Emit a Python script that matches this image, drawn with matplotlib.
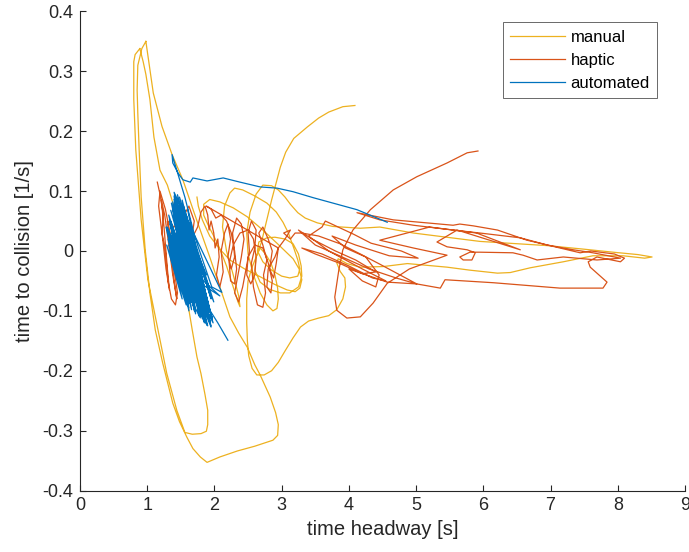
import matplotlib
matplotlib.use("Agg")
import matplotlib.pyplot as plt
import numpy as np

plt.rcParams['font.family'] = ['Liberation Sans', 'DejaVu Sans']
plt.rcParams['axes.unicode_minus'] = False

nan = np.nan

# Trajectories in the (time headway [s], time to collision [1/s]) plane.
# NaN entries separate individual runs of the same condition.
manual_thw = [
    # run 1
    0.89, 0.82, 0.80, 0.80, 0.83, 0.91, 1.01, 1.16, 1.29, 1.44, 1.56, 1.67, 1.80, 1.88, 1.90, 1.90, 1.86, 1.80,
    1.74, 1.67, 1.60, 1.55, 1.47, 1.41, 1.30, 1.19, 1.10, 1.04, 0.98, 0.94, 0.89, nan,
    # run 2
    0.98, 1.09, 1.22, 1.37, 1.53, 1.71, 1.93, 2.11, 2.23, 2.36, 2.49, 2.60, 2.68, 2.83, 2.91, 2.95, 2.94, 2.87,
    2.60, 2.34, 2.08, 1.89, 1.79, 1.68, 1.59, 1.48, 1.38, 1.23, 1.12, 1.04, 0.97, 0.91, 0.88, 0.86, 0.85, 0.86,
    0.92, 0.98, nan,
    # run 3
    1.74, 1.76, 1.82, 1.93, 2.08, 2.23, 2.45, 2.68, 2.90, 3.08, 3.20, 3.27, 3.30, 3.26, 3.17, 3.05, 2.93, 2.72,
    2.49, 2.28, 2.08, 1.93, 1.84, 1.84, 1.92, 2.05, 2.18, 2.28, 2.35, 2.38, 2.36, 2.28, 2.18, 2.12, 2.15, 2.23,
    2.30, 2.42, 2.60, 2.78, 2.92, 3.02, 3.10, 3.18, 3.24, 3.27, 3.24, 3.12, 3.00, 2.85, 2.72, 2.64, 2.66, 2.78,
    2.90, 3.05, 3.17, 3.25, 3.29, 3.30, 3.25, 3.12, 2.98, 2.82, 2.68, 2.60, 2.62, 2.68, 2.76, 2.84, 2.90, 2.94,
    2.95, 2.93, 2.87, 2.78, 2.68, 2.58, 2.50, 2.48, 2.53, 2.62, 2.72, 2.85, 2.95, 3.05, 3.13, 3.24, 3.35, 3.53,
    3.76, 4.17, 4.46, 4.96, 5.95, 6.95, 7.50, 7.93, 8.30, 8.51, 8.40, 8.08, 7.63, 7.19, 6.70, 6.40, 6.21, 5.80,
    5.46, 4.87, 4.51, 4.17, 3.97, 3.84, 3.82, 3.87, 3.94, 3.95, 3.91, 3.82, 3.70, 3.55, 3.40, 3.28, 3.17, 3.05,
    2.95, 2.85, 2.74, 2.63, 2.56, 2.51, 2.49, 2.48, 2.48, 2.50, 2.55, 2.62, 2.70, 2.78, 2.85, 2.92, 2.98, 3.06,
    3.18, 3.38, 3.55, 3.70, 3.91, 4.09,
]
manual_ttc = [
    # run 1
    0.338, 0.328, 0.316, 0.253, 0.169, 0.052, -0.048, -0.132, -0.204, -0.266, -0.303, -0.306, -0.305, -0.301,
    -0.290, -0.266, -0.240, -0.205, -0.177, -0.132, -0.085, -0.040, 0.015, 0.070, 0.110, 0.135, 0.190, 0.253,
    0.295, 0.316, 0.338, nan,
    # run 2
    0.350, 0.264, 0.208, 0.161, 0.119, 0.060, -0.010, -0.070, -0.110, -0.137, -0.161, -0.190, -0.207, -0.244,
    -0.270, -0.290, -0.308, -0.316, -0.326, -0.334, -0.344, -0.353, -0.344, -0.330, -0.311, -0.285, -0.254,
    -0.187, -0.132, -0.070, 0.002, 0.090, 0.169, 0.230, 0.269, 0.310, 0.338, 0.350, nan,
    # run 3
    0.090, 0.075, 0.052, 0.025, 0.003, -0.015, -0.030, -0.043, -0.056, -0.065, -0.068, -0.062, -0.048, -0.030,
    -0.013, 0.000, 0.013, 0.035, 0.057, 0.072, 0.082, 0.086, 0.078, 0.060, 0.040, 0.012, -0.025, -0.060, -0.085,
    -0.093, -0.075, -0.040, 0.000, 0.040, 0.075, 0.097, 0.105, 0.102, 0.092, 0.080, 0.065, 0.048, 0.030, 0.005,
    -0.015, -0.030, -0.042, -0.045, -0.042, -0.032, -0.018, 0.000, 0.015, 0.022, 0.023, 0.020, 0.012, -0.005,
    -0.025, -0.042, -0.060, -0.070, -0.070, -0.064, -0.052, -0.032, -0.010, 0.005, -0.005, -0.020, -0.040,
    -0.062, -0.080, -0.096, -0.100, -0.090, -0.070, -0.040, -0.005, 0.030, 0.065, 0.095, 0.110, 0.109, 0.102,
    0.090, 0.078, 0.064, 0.055, 0.047, 0.041, 0.038, 0.040, 0.030, 0.016, 0.009, 0.003, -0.002, -0.006, -0.010,
    -0.012, -0.008, -0.008, -0.018, -0.028, -0.036, -0.037, -0.032, -0.027, -0.021, -0.026, -0.027, -0.021,
    -0.013, -0.020, -0.034, -0.045, -0.060, -0.080, -0.098, -0.108, -0.112, -0.117, -0.127, -0.145, -0.167,
    -0.186, -0.200, -0.207, -0.207, -0.196, -0.175, -0.150, -0.120, -0.080, -0.050, -0.030, -0.010, 0.015, 0.052,
    0.085, 0.115, 0.140, 0.165, 0.188, 0.207, 0.222, 0.232, 0.241, 0.243,
]

haptic_thw = [
    1.15, 1.19, 1.24, 1.22, 1.27, 1.31, 1.36, 1.42, 1.45, 1.40, 1.34, 1.27, 1.19, 1.17, 1.23, 1.28, 1.33, 1.30,
    1.25, 1.21, 1.26, 1.31, 1.38, 1.44, 1.40, 1.30, 1.40, 1.55, 1.62, 1.70, 1.66, 1.75,
    1.80, 1.86, 1.90, 1.92, 1.95, 1.99, 2.01, 2.05, 2.07, 2.03, 2.08, 2.13, 2.10, 2.15, 2.20, 2.24, 2.20, 2.25,
    2.30, 2.27, 2.33, 2.40, 2.44, 2.40, 2.35, 2.30, 2.36, 2.42, 2.47, 2.52, 2.50, 2.55, 2.62, 2.60, 2.55, 2.58,
    2.64, 2.72, 2.76, 2.73, 2.78, 2.72, 2.66, 2.72, 2.80, 2.86, 2.82, 2.88, 2.92, 2.95,
    1.88, 1.95, 2.02, 2.10, 2.18, 2.25, 2.30, 2.33, 2.30, 2.24, 2.22, 2.28, 2.38, 2.50, 2.58, 2.62, 2.60, 2.54,
    2.48, 2.50, 2.60, 2.72, 2.80, 2.86, 2.84, 2.78, 2.80, 2.90, 2.95,
    3.05, 3.13, 3.03, 3.13, 3.20, 3.30, 3.55, 3.87, 4.17, 4.46, 5.01, 4.70, 4.30, 3.90, 3.50, 3.25, 3.45, 3.80,
    4.10, 4.40, 4.20, 3.85, 3.50, 3.30, 3.60, 4.00, 4.35, 4.55, 4.20, 3.70, 3.40, 3.60, 3.65, 4.07, 4.33, 4.78,
    5.03, 4.60, 4.10, 3.75, 3.95, 4.25, 4.45, 4.40, 4.20, 4.00, 4.57,
    5.01, 5.36, 5.43, 6.15, 7.14, 7.78, 7.84, 7.59, 7.56, 7.69, 8.04, 8.10, 7.95, 7.60, 7.44,
    6.65, 6.21, 5.85, 5.65, 5.55, 4.66, 4.12, 4.46, 4.96, 5.55, 5.95, 6.55, 6.95, 7.34, 7.63, 8.04, 7.69, 7.19,
    6.80, 6.59, 6.44, 5.95, 5.80, 5.65, 5.70, 5.83, 5.88, 5.76, 5.46, 5.31, 5.61, 6.55, 5.90, 5.20, 4.46,
    4.96, 5.46, 4.90, 4.57, 4.36, 4.17, 3.97, 3.82, 3.79, 3.85, 3.91, 4.06, 4.32, 4.66, 5.01, 5.46, 5.76, 5.92,
]
haptic_ttc = [
    0.115, 0.095, 0.060, 0.030, 0.000, -0.050, -0.080, -0.090, -0.070, -0.030, 0.030, 0.070, 0.100, 0.075,
    0.020, -0.030, -0.065, -0.030, 0.040, 0.085, 0.060, 0.020, -0.040, -0.080, -0.050, 0.050, 0.040, 0.060,
    0.075, 0.050, 0.020, 0.040,
    0.065, 0.075, 0.060, 0.035, 0.050, 0.030, 0.005, 0.020, -0.010, -0.040, -0.060, -0.035, 0.000, 0.030,
    0.045, 0.020, -0.010, -0.030, -0.010, 0.030, 0.055, 0.045, 0.020, -0.010, -0.040, -0.070, -0.085, -0.060,
    -0.030, 0.000, 0.030, 0.050, 0.035, 0.005, -0.020, -0.060, -0.090, -0.094, -0.070, -0.040, -0.015, 0.010,
    0.030, 0.040, 0.020, 0.000, -0.030, -0.045, -0.020, 0.005,
    0.075, 0.070, 0.055, 0.060, 0.050, 0.030, 0.000, -0.030, -0.055, -0.050, -0.020, 0.010, 0.030, 0.035,
    0.020, -0.010, -0.040, -0.055, -0.040, -0.010, 0.010, 0.005, -0.020, -0.050, -0.070, -0.060, -0.030,
    -0.010, 0.005,
    0.020, 0.035, 0.030, 0.020, 0.030, 0.030, 0.025, 0.012, -0.005, -0.022, -0.055, -0.045, -0.030, -0.010,
    0.010, 0.035, 0.020, 0.000, -0.015, -0.035, -0.038, -0.020, -0.005, 0.005, -0.005, -0.025, -0.045, -0.050,
    -0.030, 0.000, 0.025, 0.040, 0.050, 0.028, 0.013, 0.000, -0.012, -0.008, 0.010, 0.025, 0.005, -0.010,
    -0.040, -0.060, -0.050, -0.030, -0.052,
    -0.055, -0.062, -0.048, -0.053, -0.062, -0.062, -0.052, -0.027, -0.018, -0.010, -0.018, -0.012, -0.005,
    0.000, -0.003,
    0.018, 0.035, 0.042, 0.045, 0.043, 0.052, 0.064, 0.052, 0.043, 0.035, 0.030, 0.022, 0.010, 0.002, -0.003,
    -0.012, -0.015, -0.010,
    -0.015, -0.007, -0.003, -0.002, -0.002, -0.010, -0.015, -0.015, -0.003, 0.002, 0.007, 0.015, 0.035, 0.002,
    0.030, 0.040, 0.018,
    0.005, -0.007, -0.030, -0.054, -0.087, -0.110, -0.112, -0.099, -0.077, -0.032, 0.002, 0.035, 0.069, 0.102,
    0.124, 0.147, 0.164, 0.167,
]

automated_thw = [
    4.57, 4.12, 3.76, 3.47, 3.17, 2.93, 2.68, 2.38, 2.13, 1.89, 1.68, 1.64, 1.53, 1.46, 1.38, 1.37,
    1.44, 1.56, 1.71, 1.96, 2.11,
    1.40, 1.78, 1.36, 1.70, 1.44, 1.85, 1.32, 1.62, 1.38, 1.90,
    1.47, 1.75, 1.30, 1.55, 1.35, 1.88, 1.42, 1.66, 1.50, 1.80,
    1.31, 1.50, 1.37, 1.95, 1.45, 1.72, 1.55, 1.84, 1.33, 1.60,
    1.40, 1.92, 1.48, 1.68, 1.36, 1.78, 1.42, 1.65, 1.39, 1.85,
    1.30, 1.58, 1.44, 1.90, 1.52, 1.75, 1.34, 1.62, 1.41, 1.82,
    1.37, 1.70, 1.46, 1.88, 1.32, 1.55, 1.40, 1.95, 1.50, 1.68,
    1.35, 1.80, 1.43, 1.74, 1.31, 1.60, 1.38, 1.86, 1.47, 1.64,
    1.33, 1.72, 1.45, 1.92, 1.36, 1.57, 1.42, 1.83, 1.53, 1.78,
    1.34, 1.66, 1.40, 1.89, 1.48, 1.70, 1.37, 1.62, 1.44, 1.80,
    1.52, 1.97, 1.58, 1.93, 1.62, 1.95, 1.48, 1.90, 1.60, 1.85,
    1.55, 1.98, 1.28, 1.52, 1.29, 1.58, 1.56, 1.92, 1.64, 1.88,
    1.50, 1.96, 1.66, 1.99, 1.54, 1.87, 1.60, 1.94, 1.45, 1.82,
    1.55, 2.08, 1.60, 2.05, 2.20,
]
automated_ttc = [
    0.048, 0.069, 0.080, 0.089, 0.099, 0.105, 0.107, 0.115, 0.122, 0.117, 0.122, 0.115, 0.119, 0.130, 0.147,
    0.161,
    0.135, 0.090, 0.023, -0.060, -0.069,
    0.098, -0.110, 0.080, -0.100, 0.088, -0.120, 0.060, -0.095, 0.070, -0.125,
    0.075, -0.080, 0.040, -0.065, 0.050, -0.120, 0.062, -0.085, 0.055, -0.090,
    0.020, -0.060, 0.030, -0.127, 0.040, -0.100, 0.030, -0.090, 0.000, -0.090,
    0.010, -0.115, 0.015, -0.070, -0.015, -0.110, 0.085, -0.060, 0.072, -0.118,
    0.035, -0.080, 0.065, -0.100, 0.050, -0.075, 0.045, -0.100, 0.058, -0.108,
    0.025, -0.095, 0.040, -0.122, 0.010, -0.070, 0.092, -0.125, 0.020, -0.050,
    0.068, -0.112, 0.078, -0.085, 0.030, -0.092, 0.082, -0.115, 0.005, -0.045,
    0.052, -0.105, 0.060, -0.110, -0.005, -0.080, 0.070, -0.110, 0.035, -0.065,
    0.045, -0.098, 0.086, -0.124, 0.048, -0.060, 0.012, -0.088, 0.066, -0.095,
    0.085, -0.115, 0.060, -0.100, 0.045, -0.080, 0.090, -0.100, 0.070, -0.060,
    0.050, -0.120, 0.040, -0.080, 0.010, -0.090, 0.030, -0.060, 0.020, -0.040,
    0.065, -0.110, 0.010, -0.085, 0.075, -0.095, 0.040, -0.118, 0.094, -0.105,
    -0.020, -0.075, -0.040, -0.120, -0.149,
]

series = [
    ("manual", manual_thw, manual_ttc, "#EDB120"),
    ("haptic", haptic_thw, haptic_ttc, "#D95319"),
    ("automated", automated_thw, automated_ttc, "#0072BD"),
]

x_ticks = [0, 1, 2, 3, 4, 5, 6, 7, 8, 9]
y_ticks = [-0.4, -0.3, -0.2, -0.1, 0, 0.1, 0.2, 0.3, 0.4]
y_tick_labels = ["-0.4", "-0.3", "-0.2", "-0.1", "0", "0.1", "0.2", "0.3", "0.4"]

fig = plt.figure(figsize=(6.89, 5.52), dpi=100)
ax = fig.add_axes([0.1161, 0.1114, 0.8781, 0.8678])

for name, xs, ys, color in series:
    ax.plot(xs, ys, color=color, lw=0.9, label=name, solid_joinstyle="round")

axis_color = "#262626"
ax.set_xlim(0, 9)
ax.set_ylim(-0.4, 0.4)
ax.set_xticks(x_ticks)
ax.set_xticklabels([str(v) for v in x_ticks])
ax.set_yticks(y_ticks)
ax.set_yticklabels(y_tick_labels)
for side in ("top", "right"):
    ax.spines[side].set_visible(False)
for side in ("left", "bottom"):
    ax.spines[side].set_color(axis_color)
    ax.spines[side].set_linewidth(0.8)
ax.tick_params(direction="in", length=4.5, width=0.8, colors=axis_color,
               labelsize=13, pad=5)

ax.set_xlabel("time headway [s]", fontsize=14.5, color=axis_color, labelpad=4)
ax.set_ylabel("time to collision [1/s]", fontsize=14.5, color=axis_color, labelpad=6)

leg = ax.legend(loc="upper right", bbox_to_anchor=(0.954, 0.978), borderaxespad=0,
                fontsize=12, handlelength=3.3, handletextpad=0.3, labelspacing=0.48,
                borderpad=0.45, frameon=True, fancybox=False)
leg.get_frame().set_edgecolor(axis_color)
leg.get_frame().set_linewidth(0.6)

fig.savefig("out.png", dpi=100)
